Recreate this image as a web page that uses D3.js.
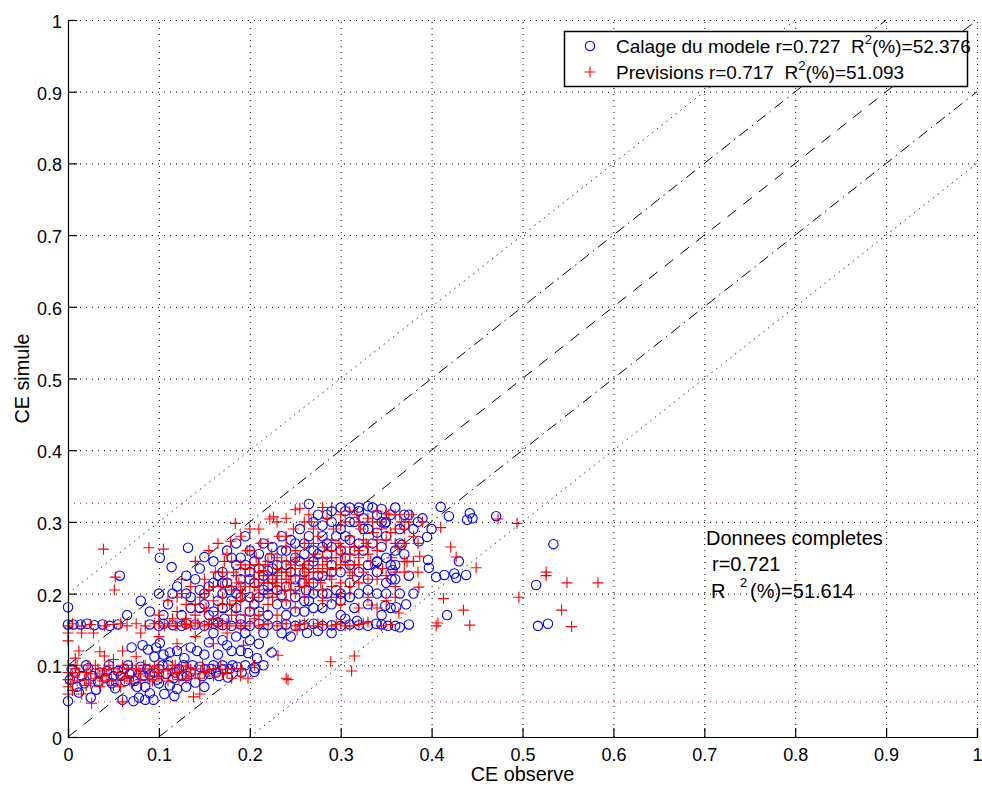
<!DOCTYPE html>
<meta charset="utf-8">
<style>
body { margin: 0; background: #fff; }
svg text { font-family: "Liberation Sans", Arial, Helvetica, sans-serif; fill: #000; white-space: pre; }
</style>
<svg width="982" height="789"></svg>
<script src="https://d3js.org/d3.v7.min.js"></script>
<script>

var ticks = [0, 0.1, 0.2, 0.3, 0.4, 0.5, 0.6, 0.7, 0.8, 0.9, 1];

// lines y = x + k
var refOffsets = [0.2, 0.1, 0, -0.1, -0.2];
// min / max of simulated values (red dotted)
var simBounds = [0.049, 0.326];

var legendLabels = [
  ["Calage du modele r=0.727  R", "2", "(%)=52.376"],
  ["Previsions r=0.717  R", "2", "(%)=51.093"]
];
var statsTitle = "Donnees completes";
var statsR = "r=0.721";
var statsR2 = ["R", "2", "(%)=51.614"];

// Calage du modele (blue circles)
var calage = [
  [0,0.181],[0,0.157],[0,0.05],[0.002,0.08],[0.004,0.095],[0.006,0.157],[0.014,0.157],[0.021,0.158],[0.029,0.156],[0.038,0.157],[0.046,0.155],[0.055,0.157],
  [0.012,0.062],[0.025,0.055],[0.031,0.066],[0.015,0.085],[0.022,0.096],[0.035,0.09],[0.041,0.082],[0.048,0.075],[0.052,0.068],[0.058,0.085],[0.062,0.095],
  [0.066,0.1],[0.07,0.09],[0.073,0.078],[0.076,0.07],[0.078,0.055],[0.085,0.052],[0.09,0.061],[0.094,0.052],[0.098,0.08],[0.1,0.095],[0.104,0.1],
  [0.108,0.088],[0.112,0.072],[0.116,0.082],[0.12,0.067],[0.122,0.095],[0.127,0.1],[0.131,0.085],[0.135,0.091],[0.14,0.076],[0.145,0.098],[0.151,0.095],
  [0.156,0.088],[0.16,0.1],[0.166,0.085],[0.171,0.095],[0.176,0.083],[0.181,0.1],[0.186,0.098],[0.191,0.09],[0.198,0.117],[0.205,0.091],[0.208,0.11],
  [0.215,0.1],[0.224,0.118],[0.206,0.096],[0.07,0.125],[0.082,0.128],[0.088,0.122],[0.097,0.125],[0.101,0.131],[0.112,0.118],[0.06,0.052],[0.072,0.05],
  [0.106,0.06],[0.117,0.057],[0.045,0.1],[0.055,0.092],[0.08,0.098],[0.09,0.087],[0.128,0.11],[0.142,0.12],[0.155,0.132],[0.165,0.115],[0.175,0.128],
  [0.185,0.14],[0.19,0.12],[0.01,0.07],[0.02,0.1],[0.033,0.077],
  [0.008,0.09],[0.018,0.075],[0.027,0.085],[0.043,0.092],[0.05,0.085],[0.063,0.078],[0.068,0.088],[0.083,0.085],[0.087,0.095],[0.095,0.09],
  [0.11,0.1],[0.118,0.09],[0.125,0.085],[0.137,0.1],[0.148,0.085],[0.158,0.095],[0.163,0.09],[0.17,0.1],[0.178,0.095],[0.195,0.1],[0.085,0.07],
  [0.1,0.075],[0.13,0.07],[0.15,0.07],[0.095,0.112],[0.105,0.115],[0.12,0.12],[0.135,0.125],[0.15,0.115],[0.17,0.135],[0.18,0.12],[0.2,0.135],
  [0.21,0.13],[0.16,0.145],[0.195,0.145],[0.215,0.145],[0.245,0.14],
  [0.057,0.225],[0.101,0.25],[0.114,0.237],[0.132,0.264],[0.15,0.251],[0.065,0.17],[0.08,0.19],[0.09,0.175],[0.1,0.2],[0.11,0.185],[0.12,0.21],
  [0.125,0.17],[0.135,0.195],[0.14,0.22],[0.145,0.18],
  [0.105,0.17],[0.115,0.2],[0.13,0.225],[0.145,0.235],[0.16,0.245],[0.175,0.26],[0.185,0.27],[0.195,0.28],[0.21,0.255],[0.225,0.265],
  [0.205,0.185],[0.165,0.16],
  [0.09,0.157],[0.1,0.155],[0.105,0.158],[0.115,0.156],[0.125,0.155],[0.13,0.158],[0.14,0.157],[0.15,0.155],[0.16,0.158],[0.17,0.156],[0.18,0.155],
  [0.19,0.157],[0.2,0.155],[0.21,0.158],[0.22,0.156],[0.23,0.155],[0.24,0.157],[0.25,0.155],[0.259,0.156],[0.27,0.158],[0.28,0.155],[0.29,0.156],
  [0.3,0.155],[0.31,0.157],[0.32,0.156],[0.33,0.155],[0.339,0.158],[0.345,0.157],[0.352,0.155],[0.365,0.153],[0.305,0.165],[0.318,0.162],[0.263,0.145],
  [0.275,0.148],[0.29,0.145],[0.235,0.145],
  [0.15,0.2],[0.155,0.17],[0.16,0.215],[0.165,0.19],[0.17,0.23],[0.172,0.165],[0.178,0.205],[0.18,0.25],[0.185,0.18],[0.19,0.22],[0.195,0.24],
  [0.2,0.195],[0.2,0.26],[0.205,0.215],[0.21,0.175],[0.21,0.235],[0.215,0.27],[0.22,0.2],[0.222,0.25],[0.225,0.22],[0.23,0.185],[0.23,0.24],
  [0.235,0.28],[0.24,0.21],[0.24,0.26],[0.245,0.23],[0.25,0.195],[0.25,0.25],[0.255,0.29],[0.258,0.215],[0.26,0.27],[0.265,0.24],[0.265,0.325],
  [0.27,0.2],[0.27,0.3],[0.275,0.255],[0.28,0.225],[0.28,0.28],[0.285,0.31],[0.29,0.24],[0.29,0.265],[0.295,0.205],[0.3,0.29],[0.3,0.32],
  [0.305,0.25],[0.31,0.275],[0.315,0.3],[0.32,0.23],[0.32,0.315],[0.325,0.26],[0.33,0.29],[0.335,0.32],[0.34,0.245],[0.345,0.3],[0.35,0.28],
  [0.355,0.31],[0.36,0.22],[0.365,0.27],[0.37,0.295],[0.375,0.31],[0.38,0.29],[0.386,0.273],[0.395,0.279],[0.367,0.268],[0.356,0.22],[0.361,0.181],
  [0.349,0.183],[0.175,0.215],[0.19,0.195],[0.205,0.245],[0.215,0.205],[0.22,0.232],[0.235,0.198],[0.245,0.275],[0.25,0.22],[0.26,0.23],
  [0.262,0.205],[0.27,0.245],[0.275,0.225],[0.285,0.255],[0.295,0.28],[0.3,0.23],[0.31,0.215],[0.315,0.26],[0.325,0.29],[0.33,0.24],[0.34,0.31],
  [0.35,0.25],[0.31,0.32],[0.33,0.322],[0.345,0.318],[0.36,0.32],[0.29,0.315],[0.275,0.31],[0.34,0.2],[0.33,0.185],[0.32,0.2],[0.3,0.19],
  [0.28,0.18],[0.26,0.175],[0.24,0.17],[0.22,0.17],[0.2,0.175],[0.19,0.165],[0.16,0.175],[0.17,0.2],[0.185,0.24],[0.15,0.185],[0.28,0.2],
  [0.35,0.2],[0.355,0.24],[0.37,0.255],[0.375,0.225],[0.38,0.2],[0.372,0.185],[0.349,0.298],[0.357,0.233],[0.34,0.244],[0.33,0.22],
  [0.18,0.19],[0.19,0.21],[0.2,0.22],[0.21,0.195],[0.22,0.21],[0.23,0.205],[0.24,0.24],[0.25,0.21],[0.255,0.245],[0.26,0.255],[0.27,0.26],
  [0.28,0.265],[0.285,0.27],[0.29,0.3],[0.3,0.26],[0.305,0.28],[0.31,0.3],[0.32,0.27],[0.325,0.305],[0.335,0.27],[0.34,0.285],[0.345,0.265],
  [0.35,0.3],[0.36,0.26],[0.365,0.29],[0.37,0.31],[0.32,0.32],[0.305,0.315],[0.28,0.295],[0.265,0.28],[0.25,0.27],[0.235,0.26],[0.225,0.235],
  [0.215,0.225],[0.2,0.23],[0.19,0.25],[0.17,0.215],[0.165,0.225],[0.155,0.21],[0.145,0.205],[0.135,0.18],[0.13,0.2],[0.17,0.18],[0.185,0.2],
  [0.24,0.185],[0.26,0.19],[0.3,0.2],[0.31,0.24],[0.29,0.23],[0.27,0.215],[0.34,0.23],[0.36,0.24],[0.35,0.215],[0.33,0.205],[0.31,0.195],
  [0.29,0.185],[0.27,0.18],[0.345,0.17],[0.365,0.2],[0.355,0.18],[0.3,0.17],[0.315,0.18],[0.285,0.2],[0.265,0.19],[0.25,0.175],
  [0.396,0.247],[0.397,0.236],[0.41,0.321],[0.419,0.308],[0.439,0.303],[0.442,0.312],[0.445,0.305],[0.471,0.308],[0.405,0.223],[0.414,0.226],
  [0.425,0.228],[0.427,0.222],[0.438,0.226],[0.417,0.17],[0.534,0.269],[0.515,0.212],[0.517,0.155],[0.528,0.158],[0.39,0.305],[0.4,0.29],
  [0.43,0.245],[0.36,0.155],[0.375,0.157],[0.385,0.3]
];

// Previsions (red crosses)
var previsions = [
  [0,0.06],[0,0.07],[0,0.08],[0,0.09],[0,0.1],[0,0.134],[0,0.145],[0,0.155],[0.003,0.075],[0.005,0.085],[0.008,0.095],[0.01,0.078],[0.012,0.09],
  [0.015,0.145],[0.018,0.08],[0.02,0.072],[0.022,0.1],[0.025,0.088],[0.026,0.047],[0.028,0.145],[0.03,0.082],[0.033,0.095],[0.035,0.119],
  [0.038,0.078],[0.039,0.262],[0.04,0.155],[0.042,0.088],[0.045,0.1],[0.048,0.08],[0.05,0.072],[0.051,0.205],[0.052,0.223],[0.055,0.09],
  [0.058,0.158],[0.06,0.049],[0.062,0.082],[0.065,0.095],[0.068,0.078],[0.07,0.1],[0.072,0.085],[0.075,0.158],[0.078,0.092],[0.08,0.08],
  [0.083,0.1],[0.085,0.155],[0.088,0.085],[0.089,0.264],[0.09,0.095],[0.093,0.078],[0.095,0.158],[0.098,0.09],[0.1,0.1],[0.103,0.082],
  [0.105,0.262],[0.106,0.155],[0.11,0.095],[0.112,0.158],[0.115,0.088],[0.118,0.1],[0.12,0.155],[0.122,0.08],[0.125,0.092],[0.128,0.158],
  [0.13,0.1],[0.133,0.085],[0.135,0.155],[0.138,0.056],[0.14,0.095],[0.143,0.158],[0.145,0.082],[0.148,0.1],[0.15,0.155],[0.155,0.092],
  [0.158,0.158],[0.16,0.085],[0.165,0.155],[0.168,0.1],[0.17,0.158],[0.175,0.09],[0.178,0.155],[0.18,0.082],[0.185,0.158],[0.19,0.095],
  [0.193,0.128],[0.195,0.155],[0.198,0.082],[0.2,0.158],[0.205,0.1],[0.21,0.155],[0.22,0.158],[0.231,0.114],[0.23,0.155],[0.24,0.082],
  [0.242,0.08],[0.24,0.158],[0.25,0.155],[0.252,0.149],[0.26,0.158],[0.27,0.155],[0.28,0.157],[0.289,0.105],[0.29,0.155],[0.3,0.158],
  [0.312,0.092],[0.315,0.113],[0.31,0.155],[0.32,0.157],[0.334,0.184],[0.364,0.173],[0.04,0.113],[0.05,0.108],[0.06,0.12],[0.075,0.112],
  [0.015,0.06],[0.01,0.1],[0.035,0.07],[0.058,0.07],[0.145,0.06],[0.08,0.145],[0.1,0.14],[0.12,0.13],[0.14,0.14],[0.16,0.13],[0.175,0.145],
  [0.005,0.065],[0.008,0.11],[0.012,0.12],[0.02,0.09],[0.025,0.075],[0.03,0.1],[0.035,0.085],[0.04,0.092],[0.045,0.078],[0.05,0.095],
  [0.055,0.08],[0.06,0.1],[0.065,0.085],[0.07,0.075],[0.075,0.095],[0.08,0.088],[0.085,0.1],[0.09,0.08],[0.095,0.098],[0.1,0.085],
  [0.105,0.092],[0.11,0.078],[0.115,0.1],[0.12,0.09],[0.125,0.098],[0.13,0.082],[0.135,0.095],[0.14,0.088],[0.15,0.09],[0.16,0.095],
  [0.17,0.088],[0.18,0.095],[0.19,0.085],[0.005,0.158],[0.015,0.155],[0.025,0.157],[0.05,0.157],[0.065,0.155],[0.1,0.158],[0.118,0.155],
  [0.13,0.157],[0.155,0.157],[0.175,0.158],[0.19,0.155],[0.215,0.157],[0.235,0.158],[0.255,0.157],[0.275,0.158],[0.295,0.157],[0.305,0.155],
  [0.325,0.158],
  [0.1,0.17],[0.11,0.19],[0.115,0.165],[0.125,0.22],[0.14,0.245],[0.155,0.26],[0.165,0.27],[0.175,0.255],[0.185,0.175],[0.195,0.17],
  [0.205,0.165],[0.215,0.175],[0.225,0.195],[0.23,0.17],[0.26,0.21],[0.28,0.205],[0.29,0.195],[0.31,0.2],[0.33,0.195],[0.35,0.19],
  [0.36,0.21],[0.38,0.245],[0.385,0.27],[0.2,0.29],[0.24,0.305],[0.265,0.31],[0.29,0.32],[0.31,0.315],
  [0.12,0.175],[0.125,0.2],[0.13,0.185],[0.135,0.21],[0.14,0.17],[0.145,0.195],[0.15,0.22],[0.152,0.18],[0.155,0.205],[0.16,0.19],[0.162,0.23],
  [0.165,0.175],[0.168,0.21],[0.17,0.195],[0.172,0.245],[0.175,0.22],[0.178,0.185],[0.179,0.273],[0.18,0.205],[0.182,0.23],[0.184,0.298],
  [0.185,0.19],[0.188,0.215],[0.19,0.24],[0.192,0.2],[0.195,0.225],[0.197,0.26],[0.2,0.21],[0.2,0.235],[0.203,0.195],[0.205,0.22],[0.207,0.25],
  [0.21,0.205],[0.21,0.23],[0.212,0.27],[0.215,0.215],[0.217,0.24],[0.22,0.2],[0.22,0.225],[0.222,0.304],[0.224,0.255],[0.226,0.307],
  [0.228,0.215],[0.23,0.235],[0.232,0.28],[0.235,0.22],[0.235,0.245],[0.238,0.205],[0.24,0.23],[0.24,0.265],[0.243,0.215],[0.245,0.24],
  [0.248,0.29],[0.25,0.317],[0.25,0.225],[0.252,0.25],[0.255,0.319],[0.255,0.21],[0.258,0.235],[0.26,0.27],[0.262,0.22],[0.265,0.245],
  [0.268,0.3],[0.27,0.23],[0.272,0.255],[0.275,0.28],[0.278,0.215],[0.28,0.24],[0.282,0.265],[0.285,0.305],[0.288,0.225],[0.29,0.25],
  [0.292,0.29],[0.295,0.235],[0.298,0.27],[0.3,0.215],[0.302,0.255],[0.305,0.3],[0.308,0.24],[0.31,0.28],[0.313,0.225],[0.315,0.265],
  [0.318,0.31],[0.32,0.25],[0.322,0.29],[0.325,0.23],[0.328,0.27],[0.33,0.305],[0.333,0.245],[0.336,0.285],[0.34,0.26],[0.343,0.3],
  [0.346,0.235],[0.35,0.275],[0.353,0.31],[0.356,0.25],[0.36,0.29],[0.363,0.265],[0.367,0.3],[0.37,0.245],[0.373,0.244],[0.378,0.31],
  [0.385,0.23],[0.386,0.209],[0.387,0.252],[0.39,0.3],[0.41,0.292],[0.413,0.193],[0.421,0.265],[0.427,0.251],[0.435,0.177],[0.442,0.156],
  [0.405,0.155],[0.407,0.159],[0.449,0.236],[0.473,0.304],[0.494,0.298],[0.526,0.23],[0.526,0.225],[0.549,0.215],[0.583,0.215],[0.496,0.195],
  [0.543,0.177],[0.554,0.154],[0.35,0.312],[0.36,0.31],[0.345,0.155],[0.355,0.157],[0.33,0.16],[0.2,0.24],[0.21,0.22],[0.22,0.215],
  [0.23,0.225],[0.24,0.22],[0.25,0.235],[0.26,0.225],[0.27,0.22],[0.28,0.23],[0.29,0.22],[0.3,0.24],[0.31,0.23],[0.32,0.24],[0.25,0.26],
  [0.27,0.27],[0.29,0.275],[0.31,0.265],[0.33,0.255],[0.23,0.25],[0.195,0.21],[0.215,0.232],[0.245,0.205],[0.265,0.215],[0.285,0.245],
  [0.3,0.2],[0.32,0.215],[0.34,0.22],[0.36,0.23],[0.37,0.27],[0.18,0.17],[0.16,0.165],[0.2,0.18],[0.22,0.185],[0.24,0.19],[0.26,0.195],
  [0.28,0.19],[0.3,0.185],[0.32,0.18],[0.14,0.16],[0.19,0.28],[0.21,0.29],[0.23,0.3],[0.28,0.32],[0.3,0.31],
  [0.18,0.21],[0.185,0.225],[0.19,0.205],[0.195,0.235],[0.205,0.21],[0.21,0.24],[0.215,0.225],[0.22,0.245],[0.225,0.22],[0.23,0.21],
  [0.235,0.23],[0.24,0.245],[0.245,0.225],[0.25,0.245],[0.255,0.225],[0.26,0.24],[0.265,0.23],[0.27,0.245],[0.275,0.235],[0.28,0.25],
  [0.285,0.235],[0.29,0.26],[0.295,0.25],[0.3,0.265],[0.305,0.245],[0.31,0.255],[0.315,0.24],[0.32,0.26],[0.325,0.275],[0.33,0.265],
  [0.335,0.3],[0.34,0.275],[0.345,0.29],[0.355,0.285],[0.36,0.27],[0.365,0.31],[0.37,0.29],[0.375,0.3],[0.38,0.28],[0.34,0.315],
  [0.32,0.3],[0.3,0.295],[0.27,0.29],[0.26,0.3],[0.24,0.28],[0.22,0.27],[0.2,0.26],[0.18,0.245],[0.17,0.23],[0.16,0.21],[0.15,0.2],
  [0.14,0.185],[0.13,0.165],[0.15,0.175],[0.17,0.185],[0.19,0.19],[0.21,0.195],[0.23,0.2],[0.25,0.2],[0.27,0.205],[0.29,0.21],[0.31,0.21],
  [0.33,0.22],[0.35,0.225],[0.37,0.23],[0.36,0.195],[0.34,0.18],[0.25,0.18],[0.21,0.17],[0.12,0.195]
];

var svg = d3.select("svg"),
    margin = {top: 20, right: 5, bottom: 52, left: 68},
    width = 909,
    height = 717;

var x = d3.scaleLinear().domain([0, 1]).range([margin.left, margin.left + width]);
var y = d3.scaleLinear().domain([0, 1]).range([margin.top + height, margin.top]);

// grid
svg.append("g")
    .attr("transform", "translate(0," + y(0) + ")")
    .call(d3.axisBottom(x).tickValues(ticks).tickSize(-height).tickFormat(""))
    .call(function(g) { g.select(".domain").remove(); })
    .selectAll("line")
    .attr("stroke", "#000")
    .attr("stroke-width", 1)
    .attr("stroke-dasharray", "1,5");

svg.append("g")
    .attr("transform", "translate(" + x(0) + ",0)")
    .call(d3.axisLeft(y).tickValues(ticks).tickSize(-width).tickFormat(""))
    .call(function(g) { g.select(".domain").remove(); })
    .selectAll("line")
    .attr("stroke", "#000")
    .attr("stroke-width", 1)
    .attr("stroke-dasharray", "1,5");

// red dotted min/max lines
svg.append("g").selectAll("line")
    .data(simBounds)
    .enter().append("line")
    .attr("x1", x(0))
    .attr("x2", x(1))
    .attr("y1", function(d) { return y(d); })
    .attr("y2", function(d) { return y(d); })
    .attr("stroke", "#ff0000")
    .attr("stroke-width", 1)
    .attr("stroke-dasharray", "1,5");

// reference lines y = x + k
svg.append("g").selectAll("line")
    .data(refOffsets)
    .enter().append("line")
    .attr("x1", function(k) { return x(Math.max(0, -k)); })
    .attr("y1", function(k) { return y(Math.max(0, -k) + k); })
    .attr("x2", function(k) { return x(Math.min(1, 1 - k)); })
    .attr("y2", function(k) { return y(Math.min(1, 1 - k) + k); })
    .attr("stroke", function(k) { return Math.abs(k) > 0.15 ? "#333" : "#000"; })
    .attr("stroke-width", 1)
    .attr("stroke-dasharray", function(k) {
      if (k === 0) return "11,9";
      if (Math.abs(k) < 0.15) return "11,5,1.5,5";
      return "1.5,4.5";
    });

// markers: circles first, crosses on top
svg.append("g").selectAll("circle")
    .data(calage)
    .enter().append("circle")
    .attr("cx", function(d) { return x(d[0]); })
    .attr("cy", function(d) { return y(d[1]); })
    .attr("r", 4.7)
    .attr("fill", "none")
    .attr("stroke", "#0000ff")
    .attr("stroke-width", 1.1);

svg.append("g").selectAll("path")
    .data(previsions)
    .enter().append("path")
    .attr("transform", function(d) { return "translate(" + x(d[0]) + "," + y(d[1]) + ")"; })
    .attr("d", "M-5.5,0H5.5M0,-5.5V5.5")
    .attr("fill", "none")
    .attr("stroke", "#ff0000")
    .attr("stroke-width", 1.1);

// axes
var xAxis = svg.append("g")
    .attr("transform", "translate(0," + y(0) + ")")
    .call(d3.axisBottom(x).tickValues(ticks).tickSize(-9).tickPadding(11).tickFormat(d3.format("")));
var yAxis = svg.append("g")
    .attr("transform", "translate(" + x(0) + ",0)")
    .call(d3.axisLeft(y).tickValues(ticks).tickSize(-9).tickPadding(6).tickFormat(d3.format("")));

[xAxis, yAxis].forEach(function(g) {
  g.select(".domain").attr("stroke", "#000").attr("stroke-width", 1.2);
  g.selectAll(".tick line").attr("stroke", "#000").attr("stroke-width", 1.2);
  g.selectAll("text").attr("font-size", 18).attr("font-family", null).attr("fill", "#000");
});
yAxis.selectAll("text").attr("dy", "0.42em");

// axis labels
svg.append("text")
    .attr("x", (x(0) + x(1)) / 2)
    .attr("y", 781)
    .attr("text-anchor", "middle")
    .attr("font-size", 19.8)
    .text("CE observe");

svg.append("text")
    .attr("transform", "translate(29," + (y(0) + y(1)) / 2 + ") rotate(-90)")
    .attr("text-anchor", "middle")
    .attr("font-size", 19.8)
    .text("CE simule");

// legend
var legend = svg.append("g");
legend.append("rect")
    .attr("x", 564.5).attr("y", 31.5)
    .attr("width", 403).attr("height", 55)
    .attr("fill", "#fff")
    .attr("stroke", "#000")
    .attr("stroke-width", 1.5);
legend.append("circle")
    .attr("cx", 590).attr("cy", 46).attr("r", 4.7)
    .attr("fill", "none").attr("stroke", "#0000ff").attr("stroke-width", 1.1);
legend.append("path")
    .attr("transform", "translate(590,72)")
    .attr("d", "M-5.5,0H5.5M0,-5.5V5.5")
    .attr("stroke", "#ff0000").attr("stroke-width", 1.1);
legendLabels.forEach(function(parts, i) {
  var t = legend.append("text")
      .attr("x", 616)
      .attr("y", 53 + i * 26)
      .attr("font-size", 19);
  t.append("tspan").text(parts[0]);
  t.append("tspan").attr("font-size", 13).attr("dy", -9).text(parts[1]);
  t.append("tspan").attr("dy", 9).text(parts[2]);
});

// stats annotation
svg.append("text").attr("x", 706).attr("y", 545).attr("font-size", 20).text(statsTitle);
svg.append("text").attr("x", 712).attr("y", 571).attr("font-size", 20).text(statsR);
svg.append("text").attr("x", 711).attr("y", 598).attr("font-size", 20).text(statsR2[0]);
svg.append("text").attr("x", 740).attr("y", 587).attr("font-size", 13).text(statsR2[1]);
svg.append("text").attr("x", 750).attr("y", 598).attr("font-size", 20).text(statsR2[2]);

</script>
